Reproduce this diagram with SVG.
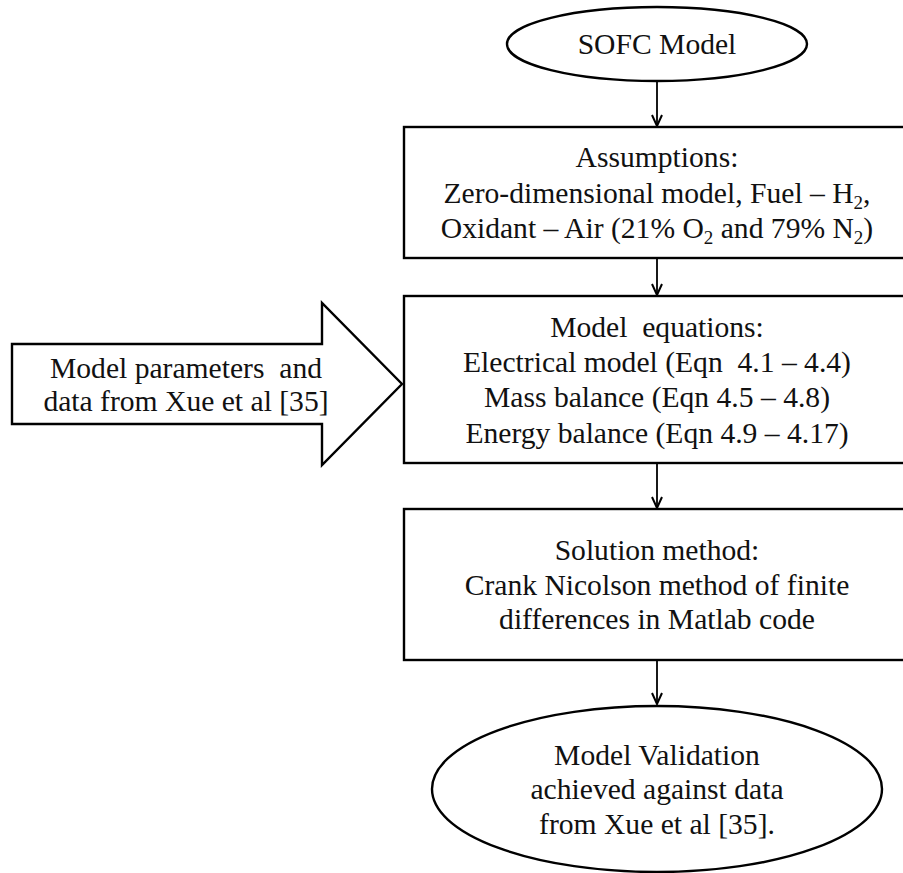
<svg xmlns="http://www.w3.org/2000/svg" width="903" height="873" viewBox="0 0 903 873">
<style>
.shape{fill:#fff;stroke:#000;stroke-width:2.4}
.conn{fill:none;stroke:#000;stroke-width:1.8}
text{font-family:"Liberation Serif","Times New Roman",serif;font-size:29.6px;fill:#111;text-anchor:middle;white-space:pre}
.sub{font-size:19px}
</style>
<defs>
<marker id="ah" viewBox="0 0 14 12" refX="12" refY="6" markerWidth="14" markerHeight="12" markerUnits="userSpaceOnUse" orient="auto">
<path d="M1,1 L12,6 L1,11" fill="none" stroke="#000" stroke-width="2"/>
</marker>
</defs>
<rect width="903" height="873" fill="#fff"/>
<g id="connectors">
<line class="conn" x1="657" y1="81" x2="657" y2="126" marker-end="url(#ah)"/>
<line class="conn" x1="657" y1="259" x2="657" y2="295" marker-end="url(#ah)"/>
<line class="conn" x1="657" y1="464" x2="657" y2="508" marker-end="url(#ah)"/>
<line class="conn" x1="657" y1="660" x2="657" y2="704" marker-end="url(#ah)"/>
</g>
<g id="start">
<ellipse class="shape" cx="657" cy="44" rx="150" ry="37"/>
<text x="657" y="54">SOFC Model</text>
</g>
<g id="assumptions">
<rect class="shape" x="404" y="127" width="510" height="131"/>
<text x="657" y="167">Assumptions:</text>
<text x="657" y="203">Zero-dimensional model, Fuel – H<tspan class="sub" dy="6">2</tspan><tspan dy="-6">,</tspan></text>
<text x="657" y="238">Oxidant – Air (21% O<tspan class="sub" dy="6">2</tspan><tspan dy="-6"> and 79% N</tspan><tspan class="sub" dy="6">2</tspan><tspan dy="-6">)</tspan></text>
</g>
<g id="equations">
<rect class="shape" x="404" y="296" width="510" height="167"/>
<text x="657" y="337">Model  equations:</text>
<text x="657" y="372">Electrical model (Eqn  4.1 – 4.4)</text>
<text x="657" y="407">Mass balance (Eqn 4.5 – 4.8)</text>
<text x="657" y="443">Energy balance (Eqn 4.9 – 4.17)</text>
</g>
<g id="inputs">
<polygon class="shape" points="12,344 322,344 322,303 402,384 322,465 322,424 12,424"/>
<text x="186" y="378">Model parameters  and</text>
<text x="186" y="411">data from Xue et al [35]</text>
</g>
<g id="solution">
<rect class="shape" x="404" y="509" width="510" height="151"/>
<text x="657" y="560">Solution method:</text>
<text x="657" y="595">Crank Nicolson method of finite</text>
<text x="657" y="629">differences in Matlab code</text>
</g>
<g id="validation">
<ellipse class="shape" cx="657" cy="789" rx="225" ry="83"/>
<text x="657" y="765">Model Validation</text>
<text x="657" y="799">achieved against data</text>
<text x="657" y="834">from Xue et al [35].</text>
</g>
</svg>
